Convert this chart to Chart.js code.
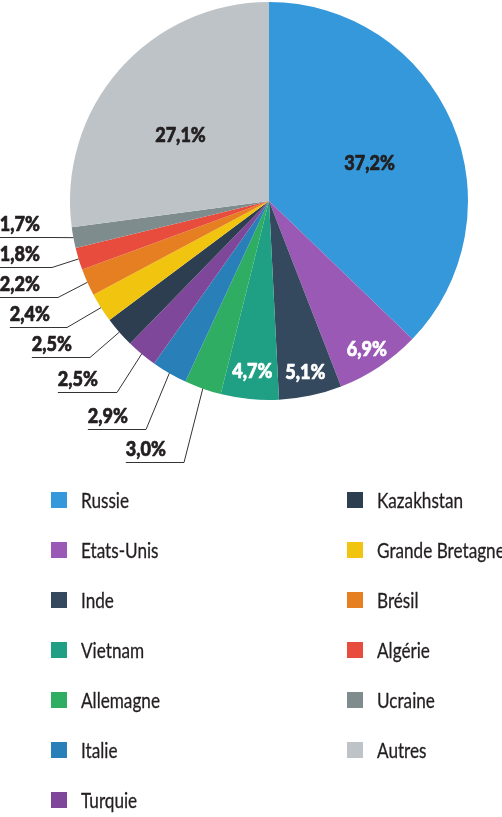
<!DOCTYPE html>
<html>
<head>
<meta charset="utf-8">
<script src="https://cdn.jsdelivr.net/npm/chart.js@4.4.1/dist/chart.umd.min.js"></script>
<style>
html,body{margin:0;padding:0;background:#fff;}
canvas{display:block;}
</style>
</head>
<body>
<canvas id="c" width="502" height="817" style="width:502px;height:817px"></canvas>
<script>
const categories = ['Russie','Etats-Unis','Inde','Vietnam','Allemagne','Italie','Turquie','Kazakhstan','Grande Bretagne','Brésil','Algérie','Ucraine','Autres'];
const shares = [37.2, 6.9, 5.1, 4.7, 3.0, 2.9, 2.5, 2.5, 2.4, 2.2, 1.8, 1.7, 27.1];
const colors = ['#3498db','#9b59b6','#34495e','#1fa084','#2fad62','#2980b9','#7f4799','#2c3e50','#f1c40f','#e67e22','#e74c3c','#7f8c8d','#bdc3c7'];

const FONT = 'Lato, "Open Sans", sans-serif';
const TEXT = '#231f20';
const LABEL_SCALE = 0.86;
const LEGEND_SCALE = 0.78;
const fmt = v => v.toFixed(1).replace('.', ',') + '%';

// inside labels: index -> [radius fraction, angle tweak (deg), colour]
const insideLabels = {0:[0.54, 2.3, TEXT], 1:[0.888, 0, '#fff'], 2:[0.875, 0, '#fff'], 3:[0.858, 0, '#fff'], 12:[0.555, -4.5, TEXT]};
// outside callouts: index -> [elbow x, underline y, text right x]
const callouts = {4:[184,462,166], 5:[146,429,128], 6:[117,392,98], 7:[90,357,72], 8:[67,327,50], 9:[58,297,40], 10:[52,267,40], 11:[52,237,40]};

function condensedText(ctx, txt, x, y, align, sx, bold) {
  const w = ctx.measureText(txt).width * sx;
  let left = x;
  if (align === 'center') left = x - w / 2;
  else if (align === 'right') left = x - w;
  ctx.save();
  ctx.translate(left, y);
  ctx.scale(sx, 1);
  ctx.textAlign = 'left';
  ctx.textBaseline = 'alphabetic';
  ctx.fillText(txt, 0, 0);
  if (bold) {
    ctx.strokeStyle = ctx.fillStyle;
    ctx.lineWidth = bold;
    ctx.lineJoin = 'round';
    ctx.strokeText(txt, 0, 0);
  }
  ctx.restore();
  return w;
}

const labelPlugin = {
  id: 'sliceLabels',
  afterDatasetsDraw(chart) {
    const ctx = chart.ctx;
    const meta = chart.getDatasetMeta(0);
    const vals = chart.data.datasets[0].data;
    ctx.save();
    ctx.font = '900 21px ' + FONT;
    meta.data.forEach((arc, i) => {
      const p = arc.getProps(['x','y','startAngle','endAngle','outerRadius'], true);
      const mid = (p.startAngle + p.endAngle) / 2;
      const txt = fmt(vals[i]);
      if (insideLabels[i]) {
        const [f, tweak, col] = insideLabels[i];
        const a = mid + tweak * Math.PI / 180;
        ctx.fillStyle = col;
        const cx = p.x + Math.cos(a) * p.outerRadius * f;
        const cy = p.y + Math.sin(a) * p.outerRadius * f;
        condensedText(ctx, txt, cx, cy + 7.5, 'center', LABEL_SCALE, 0.7);
      } else if (callouts[i]) {
        const [ex, uy, tr] = callouts[i];
        const ax = p.x + Math.cos(mid) * p.outerRadius;
        const ay = p.y + Math.sin(mid) * p.outerRadius;
        const w = ctx.measureText(txt).width * LABEL_SCALE;
        ctx.strokeStyle = '#333333';
        ctx.lineWidth = 1;
        ctx.beginPath();
        ctx.moveTo(tr - w, uy + 0.5);
        ctx.lineTo(ex, uy + 0.5);
        ctx.lineTo(ax, ay);
        ctx.stroke();
        ctx.fillStyle = TEXT;
        condensedText(ctx, txt, tr, uy - 6.5, 'right', LABEL_SCALE, 0.7);
      }
    });
    ctx.restore();
  }
};

const legendPlugin = {
  id: 'columnLegend',
  afterDraw(chart) {
    const ctx = chart.ctx;
    const labels = chart.data.labels;
    const cols = chart.data.datasets[0].backgroundColor;
    ctx.save();
    ctx.font = '22px ' + FONT;
    labels.forEach((lab, i) => {
      const col = i < 7 ? 0 : 1;
      const row = i < 7 ? i : i - 7;
      const sx = col === 0 ? 51 : 347;
      const cy = 500 + row * 50;
      ctx.fillStyle = cols[i];
      ctx.fillRect(sx, cy - 8, 16, 16);
      ctx.fillStyle = TEXT;
      condensedText(ctx, lab, sx + 30, cy + 7.5, 'left', LEGEND_SCALE, 0.3);
    });
    ctx.restore();
  }
};

new Chart(document.getElementById('c'), {
  type: 'pie',
  data: {
    labels: categories,
    datasets: [{ data: shares, backgroundColor: colors, borderWidth: 0 }]
  },
  options: {
    responsive: false,
    animation: false,
    devicePixelRatio: 1,
    layout: { padding: { left: 70, top: 2, right: 34, bottom: 417 } },
    plugins: { legend: { display: false }, tooltip: { enabled: false } }
  },
  plugins: [labelPlugin, legendPlugin]
});
</script>
</body>
</html>
